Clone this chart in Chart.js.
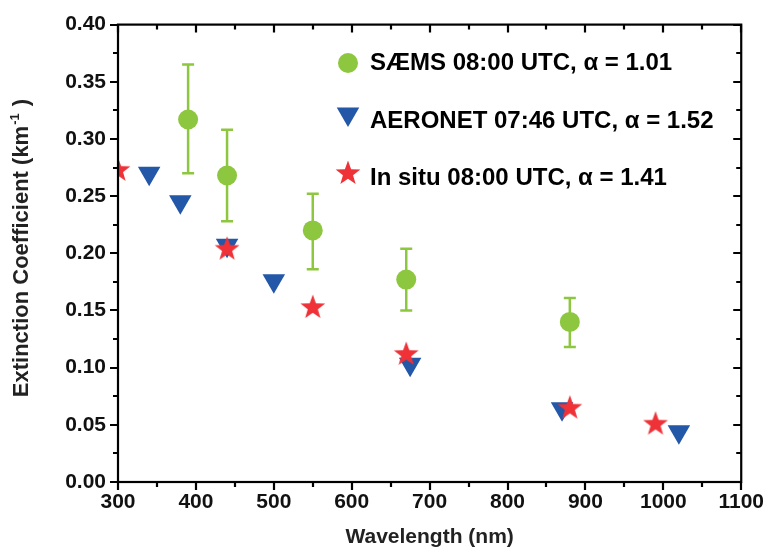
<!DOCTYPE html>
<html>
<head>
<meta charset="utf-8">
<script src="https://cdn.jsdelivr.net/npm/chart.js@4.4.0/dist/chart.umd.min.js"></script>
<style>
html, body { margin: 0; padding: 0; background: #fff; }
#wrap { width: 772px; height: 550px; }
</style>
</head>
<body>
<div id="wrap"><canvas id="c" width="772" height="550"></canvas></div>
<script>
// SAEMS retrieval, with error bars
const saemsWl = [390, 440, 550, 670, 880];
const saemsExt = [0.317, 0.268, 0.220, 0.177, 0.140];
const saemsLow = [0.270, 0.228, 0.186, 0.150, 0.118];
const saemsHigh = [0.365, 0.308, 0.252, 0.204, 0.161];

// AERONET
const aeronetWl = [340, 380, 440, 500, 675, 870, 1020];
const aeronetExt = [0.270, 0.245, 0.207, 0.176, 0.103, 0.064, 0.044];

// in situ
const insituWl = [300, 440, 550, 670, 880, 990];
const insituExt = [0.273, 0.204, 0.153, 0.112, 0.065, 0.051];

const legendLabels = [
    'SÆMS 08:00 UTC, α = 1.01',
    'AERONET 07:46 UTC, α = 1.52',
    'In situ 08:00 UTC, α = 1.41'
];

const GREEN = '#8dc63f';
const BLUE = '#2357a7';
const RED = '#ee3237';
const FONT = '"Liberation Sans", Arial, sans-serif';

function pts(xs, ys) {
    return xs.map((v, i) => ({ x: v, y: ys[i] }));
}

function starPath(ctx, cx, cy, ro, ri) {
    ctx.beginPath();
    for (let i = 0; i < 10; i++) {
        const r = i % 2 === 0 ? ro : ri;
        const a = -Math.PI / 2 + i * Math.PI / 5;
        const px = cx + r * Math.cos(a), py = cy + r * Math.sin(a);
        if (i === 0) ctx.moveTo(px, py); else ctx.lineTo(px, py);
    }
    ctx.closePath();
}

// star marker as an image, since chart.js 'star' is only a line glyph
const starImg = document.createElement('canvas');
starImg.width = 28;
starImg.height = 28;
(function () {
    const g = starImg.getContext('2d');
    g.fillStyle = RED;
    starPath(g, 14, 14.5, 13, 5.3);
    g.fill();
})();

function triDown(ctx, x, y, r) {
    const s = r * Math.sin(Math.PI / 3);
    ctx.beginPath();
    ctx.moveTo(x, y + r);
    ctx.lineTo(x - s, y - r / 2);
    ctx.lineTo(x + s, y - r / 2);
    ctx.closePath();
    ctx.fill();
}

const errorBars = {
    id: 'errorBars',
    beforeDatasetsDraw(chart) {
        const { ctx, scales: { x, y } } = chart;
        ctx.save();
        ctx.strokeStyle = GREEN;
        ctx.lineWidth = 2.5;
        saemsWl.forEach((w, i) => {
            const px = x.getPixelForValue(w);
            const top = y.getPixelForValue(saemsHigh[i]);
            const bot = y.getPixelForValue(saemsLow[i]);
            ctx.beginPath();
            ctx.moveTo(px, top); ctx.lineTo(px, bot);
            ctx.moveTo(px - 6, top); ctx.lineTo(px + 6, top);
            ctx.moveTo(px - 6, bot); ctx.lineTo(px + 6, bot);
            ctx.stroke();
        });
        ctx.restore();
    }
};

const frame = {
    id: 'frame',
    afterDatasetsDraw(chart) {
        const { ctx, chartArea: a, scales: { x, y } } = chart;
        ctx.save();
        ctx.strokeStyle = '#000';
        ctx.lineWidth = 2.2;
        ctx.beginPath();
        for (let v = 300; v <= 1100; v += 50) {
            const px = Math.round(x.getPixelForValue(v));
            const len = v % 100 === 0 ? 8 : 5;
            ctx.moveTo(px, a.bottom); ctx.lineTo(px, a.bottom + len);
            ctx.moveTo(px, a.top); ctx.lineTo(px, a.top + len);
        }
        for (let k = 0; k <= 16; k++) {
            const py = Math.round(y.getPixelForValue(k * 0.025));
            const len = k % 2 === 0 ? 8 : 5;
            ctx.moveTo(a.left, py); ctx.lineTo(a.left - len, py);
            ctx.moveTo(a.right, py); ctx.lineTo(a.right - len, py);
        }
        ctx.stroke();
        ctx.strokeRect(a.left, a.top, a.right - a.left, a.bottom - a.top);
        ctx.restore();
    },
    afterDraw(chart) {
        const { ctx, chartArea: a } = chart;
        ctx.save();
        ctx.fillStyle = '#222';
        // x title
        ctx.font = 'bold 21px ' + FONT;
        ctx.textAlign = 'center';
        ctx.textBaseline = 'middle';
        ctx.fillText('Wavelength (nm)', (a.left + a.right) / 2, 537);
        // y title with superscript
        ctx.translate(22, 248);
        ctx.rotate(-Math.PI / 2);
        ctx.font = 'bold 22px ' + FONT;
        const main = 'Extinction Coefficient (km';
        const wMain = ctx.measureText(main).width;
        ctx.font = 'bold 13px ' + FONT;
        const sup = '-1';
        const wSup = ctx.measureText(sup).width;
        ctx.font = 'bold 22px ' + FONT;
        const close = ' )';
        const wClose = ctx.measureText(close).width;
        let sx = -(wMain + wSup + 2 + wClose) / 2;
        ctx.textAlign = 'left';
        ctx.fillText(main, sx, 0);
        sx += wMain + 1;
        ctx.font = 'bold 13px ' + FONT;
        ctx.fillText(sup, sx, -7);
        sx += wSup + 1;
        ctx.font = 'bold 22px ' + FONT;
        ctx.fillText(close, sx, 0);
        ctx.restore();

        // legend
        ctx.save();
        const rows = [63, 121, 178];
        ctx.fillStyle = GREEN;
        ctx.beginPath();
        ctx.arc(348, 63, 10, 0, Math.PI * 2);
        ctx.fill();
        ctx.fillStyle = BLUE;
        triDown(ctx, 348, 114, 13);
        ctx.drawImage(starImg, 348 - 14, 173 - 14);
        ctx.fillStyle = '#000';
        ctx.font = 'bold 24px ' + FONT;
        ctx.textAlign = 'left';
        ctx.textBaseline = 'middle';
        legendLabels.forEach((t, i) => ctx.fillText(t, 370, rows[i]));
        ctx.restore();
    }
};

new Chart(document.getElementById('c'), {
    type: 'scatter',
    data: {
        datasets: [
            {
                label: legendLabels[2],
                data: pts(insituWl, insituExt),
                pointStyle: starImg,
                pointRadius: 13,
                pointHoverRadius: 13
            },
            {
                label: legendLabels[1],
                data: pts(aeronetWl, aeronetExt),
                pointStyle: 'triangle',
                rotation: 180,
                pointRadius: 13,
                pointHoverRadius: 13,
                backgroundColor: BLUE,
                borderWidth: 0
            },
            {
                label: legendLabels[0],
                data: pts(saemsWl, saemsExt),
                pointStyle: 'circle',
                pointRadius: 10,
                pointHoverRadius: 10,
                backgroundColor: GREEN,
                borderWidth: 0
            }
        ]
    },
    options: {
        responsive: false,
        animation: false,
        layout: { padding: { top: 21, right: 29, left: 0, bottom: 0 } },
        plugins: { legend: { display: false }, tooltip: { enabled: false } },
        scales: {
            x: {
                type: 'linear',
                min: 300,
                max: 1100,
                grid: { display: false, drawTicks: false },
                border: { display: false },
                ticks: {
                    stepSize: 100,
                    padding: 8,
                    color: '#111',
                    font: { family: FONT, size: 21, weight: 'bold' },
                    callback: v => String(v)
                },
                afterFit(s) { s.height = 68; }
            },
            y: {
                min: 0,
                max: 0.4,
                grid: { display: false, drawTicks: false },
                border: { display: false },
                ticks: {
                    stepSize: 0.05,
                    padding: 12,
                    color: '#111',
                    font: { family: FONT, size: 21, weight: 'bold' },
                    callback: v => v.toFixed(2)
                },
                afterFit(s) { s.width = 118; }
            }
        }
    },
    plugins: [errorBars, frame]
});
</script>
</body>
</html>
